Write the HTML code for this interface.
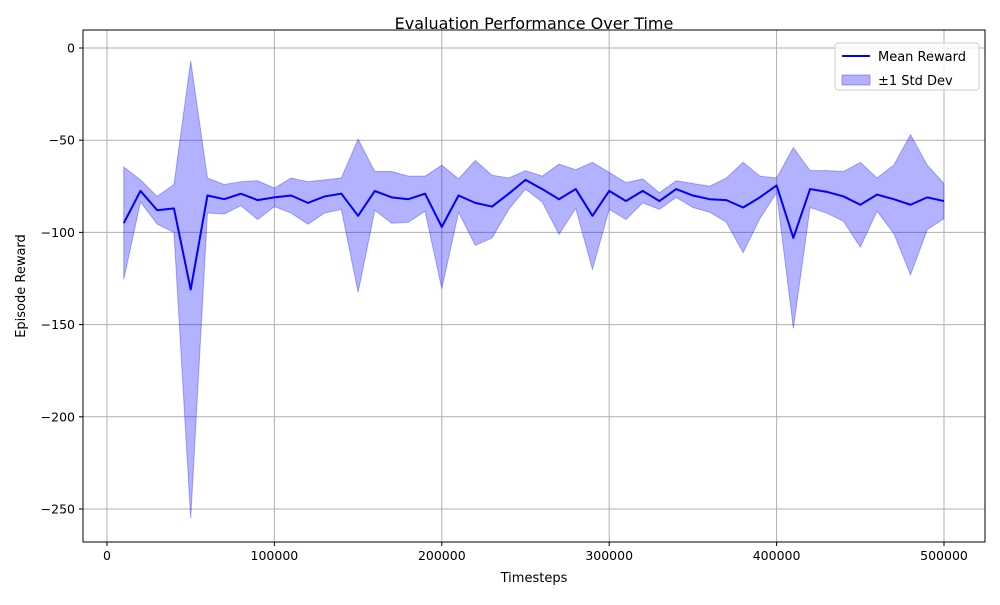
<!DOCTYPE html>
<html><head><meta charset="utf-8"><style>
body{margin:0;background:#fff;font-family:"Liberation Sans","DejaVu Sans",sans-serif;}
</style></head><body>
<svg id="chart" width="1000" height="600" xmlns="http://www.w3.org/2000/svg" font-family="DejaVu Sans, Liberation Sans, sans-serif">
<rect width="1000" height="600" fill="#fff"/>
<g id="grid"></g>
<g id="band"></g>
<g id="line"></g>
<rect x="83" y="30" width="902" height="512" fill="none" stroke="#000" stroke-width="1"/>
<g id="ticks" font-size="12.5"></g>
<text x="534" y="29" text-anchor="middle" font-size="16">Evaluation Performance Over Time</text>
<text x="534" y="582" text-anchor="middle" font-size="13">Timesteps</text>
<text transform="translate(25,286) rotate(-90)" text-anchor="middle" font-size="13">Episode Reward</text>
<g>
<rect x="835" y="43" width="144" height="47" rx="3" fill="#fff" fill-opacity="0.8" stroke="#ccc"/>
<line x1="842" y1="56" x2="870" y2="56" stroke="#0000ff" stroke-width="2"/>
<text x="878" y="61" font-size="13">Mean Reward</text>
<rect x="842" y="75" width="28" height="10" fill="#0000ff" fill-opacity="0.3" stroke="#0000ff" stroke-opacity="0.3"/>
<text x="878" y="85" font-size="13">±1 Std Dev</text>
</g>
</svg>
<script>
const timesteps=[10000,20000,30000,40000,50000,60000,70000,80000,90000,100000,110000,120000,130000,140000,150000,160000,170000,180000,190000,200000,210000,220000,230000,240000,250000,260000,270000,280000,290000,300000,310000,320000,330000,340000,350000,360000,370000,380000,390000,400000,410000,420000,430000,440000,450000,460000,470000,480000,490000,500000];
const meanReward=[-95,-77.5,-88,-87,-131,-80,-82,-79,-82.5,-81,-80,-84,-80.5,-79,-91,-77.5,-81,-82,-79,-97,-80,-84,-86,-79,-71.5,-76.5,-82,-76.5,-91,-77.5,-83,-77.5,-83,-76.5,-80,-82,-82.5,-86.5,-81,-74.5,-103,-76.5,-78,-80.5,-85,-79.5,-82,-85,-81,-83];
const stdReward=[30.5,6,7.5,13,124,9.5,8,6.5,10.5,5,9.5,11.5,9,8.5,41.5,10.5,14,12.5,9.5,33.5,9,23,17,8.5,5,7,19,10.5,29,10,10,6.5,4.5,4.5,6.5,7,12,24.5,11.5,4,49,10,11.5,13.5,23,9,18.5,38,17.5,9.5];
const xTicks=[0,100000,200000,300000,400000,500000];
const yTicks=[0,-50,-100,-150,-200,-250];
const NS="http://www.w3.org/2000/svg";
const X=v=>107+v*837/500000;
const Y=v=>48-v*461/250;
function mk(t,a,p){const e=document.createElementNS(NS,t);for(const k in a)e.setAttribute(k,a[k]);p.appendChild(e);return e;}
const grid=document.getElementById('grid'),ticks=document.getElementById('ticks');
xTicks.forEach(v=>{
 const g=mk('line',{x1:X(v),x2:X(v),y1:30,y2:542,stroke:'#b0b0b0','stroke-width':1},grid);
 
 
 mk('line',{x1:X(v),x2:X(v),y1:542,y2:546,stroke:'#000'},ticks);
 const t=mk('text',{x:X(v),y:560,'text-anchor':'middle'},ticks);t.textContent=v;
 
 
});
yTicks.forEach(v=>{
 const g=mk('line',{x1:83,x2:985,y1:Y(v),y2:Y(v),stroke:'#b0b0b0','stroke-width':1},grid);
 
 
 mk('line',{x1:79,x2:83,y1:Y(v),y2:Y(v),stroke:'#000'},ticks);
 const t=mk('text',{x:75,y:Y(v)+4.5,'text-anchor':'end'},ticks);t.textContent=v<0?'−'+(-v):v;
 
 
});
let up=timesteps.map((t,i)=>X(t)+','+Y(meanReward[i]+stdReward[i]));
let lo=timesteps.map((t,i)=>X(t)+','+Y(meanReward[i]-stdReward[i])).reverse();
const band=mk('polygon',{points:up.concat(lo).join(' '),fill:'#0000ff','fill-opacity':0.3,stroke:'#0000ff','stroke-opacity':0.3},document.getElementById('band'));


const ln=mk('polyline',{points:timesteps.map((t,i)=>X(t)+','+Y(meanReward[i])).join(' '),fill:'none',stroke:'#0000ff','stroke-width':2,'stroke-linejoin':'round'},document.getElementById('line'));


</script>
</body></html>
